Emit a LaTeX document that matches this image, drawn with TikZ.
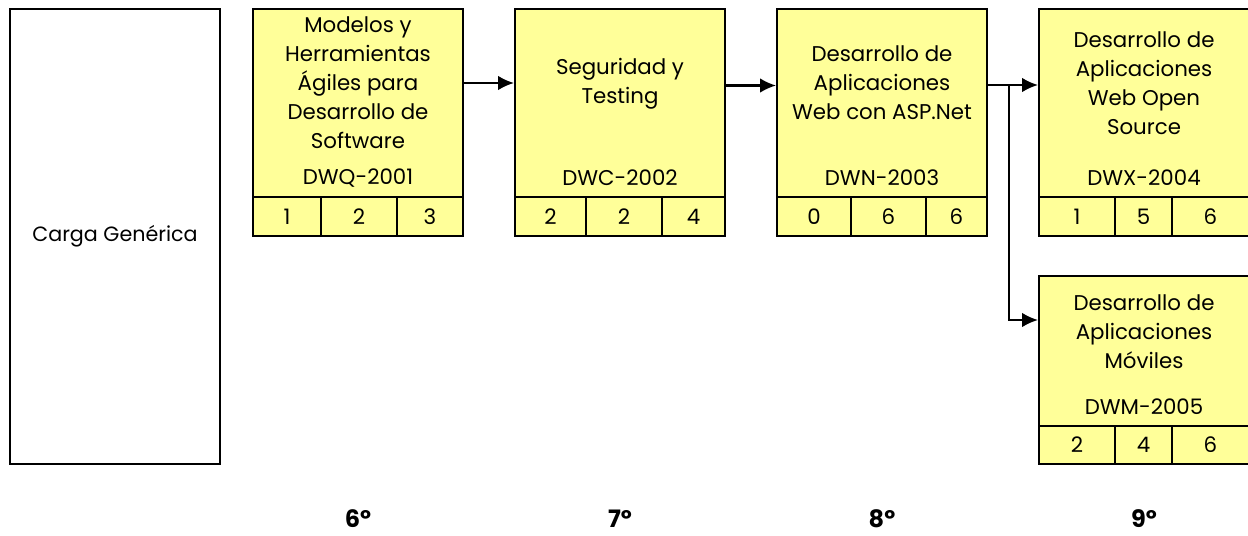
\documentclass[tikz,border=0pt]{standalone}
\usepackage{fontspec}
\setmainfont{Poppins}
\usetikzlibrary{arrows.meta}
\definecolor{curso}{HTML}{FFFF99}
\tikzset{
  carga/.style={shape=rectangle,draw=black,line width=1.5pt,minimum width=157.5pt,minimum height=341.25pt,inner sep=0pt},
  materia/.style={shape=rectangle,draw=black,fill=curso,line width=1.5pt,minimum width=157.5pt,inner sep=0pt},
  celda/.style={shape=rectangle,draw=black,fill=curso,line width=1.5pt,minimum height=29.25pt,inner sep=0pt,font=\fontsize{16}{21.75}\selectfont},
  titulo/.style={align=center,inner sep=0pt,font=\fontsize{16}{21.75}\selectfont},
  clave/.style={inner sep=0pt,font=\fontsize{16}{21.75}\selectfont},
  semestre/.style={inner sep=0pt,font=\fontsize{18}{20}\selectfont\bfseries},
  flecha/.style={draw=black,line width=1.7pt,-{Latex[length=12pt,width=11pt]}}
}

\begin{document}
\begin{tikzpicture}[x=0.75pt,y=-0.75pt]
\useasboundingbox (0,0) rectangle (1248,535);

\node[carga] (g) at (115,236.5) {\fontsize{15.5}{21.75}\selectfont Carga Genérica};

% 6o
\node[materia,minimum height=141pt] (m1) at (358,103) {};
\node[titulo] (t1) at (358,83) {Modelos y\\Herramientas\\Ágiles para\\Desarrollo de\\Software};
\node[clave] (c1) at (358,178) {DWQ-2001};
\node[celda,minimum width=51pt] (n1a) at (287,216.5) {1};
\node[celda,minimum width=57pt] (n1b) at (359,216.5) {2};
\node[celda,minimum width=49.5pt] (n1c) at (430,216.5) {3};

% 7o
\node[materia,minimum height=141pt] (m2) at (620,103) {};
\node[titulo] (t2) at (620,83.5) {Seguridad y\\Testing};
\node[clave] (c2) at (620,178) {DWC-2002};
\node[celda,minimum width=53.25pt] (n2a) at (550.5,216.5) {2};
\node[celda,minimum width=57pt] (n2b) at (624,216.5) {2};
\node[celda,minimum width=47.25pt] (n2c) at (693.5,216.5) {4};

% 8o
\node[materia,minimum height=141pt] (m3) at (882,103) {};
\node[titulo] (t3) at (882,83) {Desarrollo de\\Aplicaciones\\Web con ASP.Net};
\node[clave] (c3) at (882,178) {DWN-2003};
\node[celda,minimum width=55.5pt] (n3a) at (814,216.5) {0};
\node[celda,minimum width=56.25pt] (n3b) at (888.5,216.5) {6};
\node[celda,minimum width=45.75pt] (n3c) at (956.5,216.5) {6};

% 9o
\node[materia,minimum height=141pt] (m4) at (1144,103) {};
\node[titulo] (t4) at (1144,83) {Desarrollo de\\Aplicaciones\\Web Open\\Source};
\node[clave] (c4) at (1144,178) {DWX-2004};
\node[celda,minimum width=57pt] (n4a) at (1077,216.5) {1};
\node[celda,minimum width=42.75pt] (n4b) at (1143.5,216.5) {5};
\node[celda,minimum width=57.75pt] (n4c) at (1210.5,216.5) {6};

\node[materia,minimum height=112.5pt] (m5) at (1144,351) {};
\node[titulo] (t5) at (1144,331.5) {Desarrollo de\\Aplicaciones\\Móviles};
\node[clave] (c5) at (1144,407) {DWM-2005};
\node[celda,minimum width=57pt,minimum height=28.5pt] (n5a) at (1077,445) {2};
\node[celda,minimum width=42.75pt,minimum height=28.5pt] (n5b) at (1143.5,445) {4};
\node[celda,minimum width=57.75pt,minimum height=28.5pt] (n5c) at (1210.5,445) {6};

% semestres
\node[semestre] (s6) at (358,519) {6º};
\node[semestre] (s7) at (620,519) {7º};
\node[semestre] (s8) at (882,519) {8º};
\node[semestre] (s9) at (1144,519) {9º};

% seriacion
\coordinate (bif) at (1009,85);
\path [flecha] (t1 -| m1.east) -- (t1 -| m2.west);
\path [flecha] ([yshift=-1.5pt]t2 -| m2.east) -- ([yshift=-1.5pt]t2 -| m3.west);
\path [flecha] ([yshift=-1.5pt]t3 -| m3.east) -- ([yshift=-1.5pt]t3 -| m4.west);
\path [flecha] (bif) |- ([yshift=-33.75pt]m5.north west);
\end{tikzpicture}
\end{document}
